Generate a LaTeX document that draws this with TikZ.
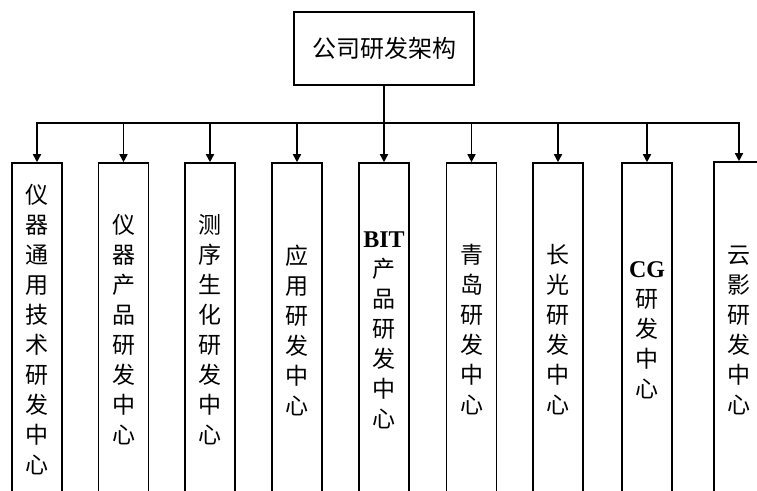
\documentclass[tikz,border=0pt]{standalone}
\usepackage{fontspec}
\setmainfont{Liberation Serif}
\newfontfamily\cjk{Noto Sans CJK SC}
\usetikzlibrary{arrows.meta}
\begin{document}
\begin{tikzpicture}[x=1pt,y=-1pt,
  topbox/.style={draw, line width=1.6pt, minimum width=180pt, minimum height=73pt, inner sep=0pt, font=\cjk\fontsize{24}{30}\selectfont},
  colbox/.style={draw, line width=1.6pt, minimum width=50pt, minimum height=334pt, inner sep=0pt, align=center, font=\cjk\fontsize{23}{30}\selectfont},
  busline/.style={line width=1.6pt},
  stemline/.style={line width=2.6pt},
  arr/.style={line width=1.6pt, -{Triangle[width=8pt,length=8pt]}},
  lat/.style={}]
\useasboundingbox (0,0) rectangle (757,490);
\clip (0,0) rectangle (757,490);
\node[topbox] (top) at (384,48.5) {公司研发架构};
\node[colbox] (c1) at (37,330) {仪\\器\\通\\用\\技\\术\\研\\发\\中\\心};
\node[colbox] (c2) at (123.5,330) {仪\\器\\产\\品\\研\\发\\中\\心};
\node[colbox] (c3) at (210,330) {测\\序\\生\\化\\研\\发\\中\\心};
\node[colbox] (c4) at (297,330) {应\\用\\研\\发\\中\\心};
\node[colbox] (c5) at (384,330) {{\rmfamily\bfseries\fontsize{24}{30}\selectfont BIT}\\产\\品\\研\\发\\中\\心};
\node[colbox] (c6) at (471.5,330) {青\\岛\\研\\发\\中\\心};
\node[colbox] (c7) at (558,330) {长\\光\\研\\发\\中\\心};
\node[colbox] (c8) at (647,330) {{\rmfamily\bfseries\fontsize{24}{30}\selectfont CG}\\研\\发\\中\\心};
\node[colbox, minimum height=336pt] (c9) at (739,330) {云\\影\\研\\发\\中\\心};
\coordinate (bus) at (384,123);
\draw[stemline] (top.south) -- (top.south |- bus);
\draw[busline] ([xshift=-0.8pt]c1.north |- bus) -- ([xshift=0.8pt]c9.north |- bus);
\foreach \c in {c1,c2,c3,c4,c5,c6,c7,c8,c9}{
  \draw[arr] (\c.north |- bus) -- (\c.north);
}
\end{tikzpicture}
\end{document}
